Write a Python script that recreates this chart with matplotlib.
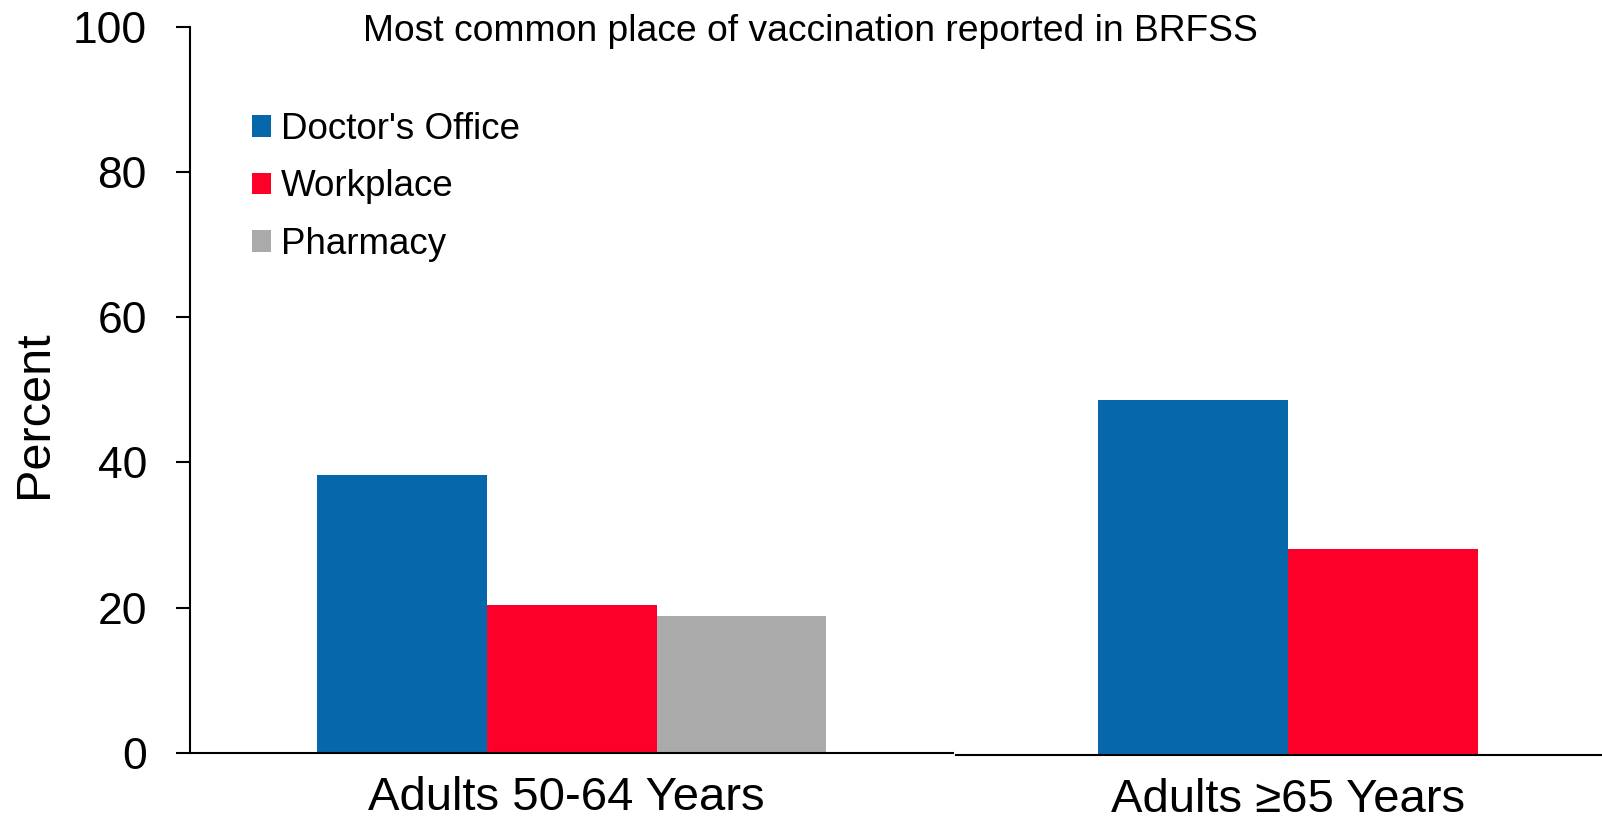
import matplotlib
matplotlib.use("Agg")
import matplotlib.pyplot as plt
from matplotlib.patches import Patch

plt.rcParams['font.family'] = ['Liberation Sans', 'DejaVu Sans']

# ---- data ----
groups = ["Adults 50-64 Years", "Adults \u226565 Years"]
series = ["Doctor's Office", "Workplace", "Pharmacy"]
doctor = [38.2, 48.9]
workplace = [20.3, 28.3]
pharmacy = [18.8, None]
colors = ["#0767AB", "#FC002A", "#AAAAAA"]
yticks = [0, 20, 40, 60, 80, 100]
title = "Most common place of vaccination reported in BRFSS"

W, H = 1602, 824
fig = plt.figure(figsize=(W / 100, H / 100), dpi=100)


def fx(px):
    return px / W


def fy(py):
    return 1 - py / H


top_px = 26.7
ax1 = fig.add_axes([fx(190), fy(752.7), fx(953) - fx(190), fy(top_px) - fy(752.7)])
ax2 = fig.add_axes([fx(956), fy(754.7), fx(1602) - fx(956), fy(top_px) - fy(752.7)])

values = [doctor, workplace, pharmacy]

# group 1: three bars
for i, (vals, c) in enumerate(zip(values, colors)):
    v = vals[0]
    if v is not None:
        ax1.bar(i - 1, v, width=1.0, color=c, linewidth=0)
# group 2: two bars
present = [(vals[1], c) for vals, c in zip(values, colors) if vals[1] is not None]
n = len(present)
for i, (v, c) in enumerate(present):
    ax2.bar(i - (n - 1) / 2, v, width=1.0, color=c, linewidth=0)

ax1.set_xlim(-2.250, 2.246)
ax2.set_xlim(-1.748, 1.656)
for ax in (ax1, ax2):
    ax.set_ylim(0, 100)
    ax.spines['top'].set_visible(False)
    ax.spines['right'].set_visible(False)
    ax.spines['bottom'].set_linewidth(1.5)
    ax.spines['left'].set_linewidth(1.5)
    ax.tick_params(axis='x', length=0, pad=17, labelsize=34)

ax2.spines['left'].set_visible(False)
ax2.set_yticks([])

ax1.set_yticks(yticks)
ax1.set_yticklabels([str(t) for t in yticks])
ax1.tick_params(axis='y', direction='out', length=10, width=1.5, pad=21, labelsize=32)

ax1.set_xticks([-0.035])
ax1.set_xticklabels([groups[0]])
ax2.set_xticks([0.0])
ax2.set_xticklabels([groups[1]])

fig.text(fx(34.5), fy(414), "Percent", rotation=90, ha='center', va='center', fontsize=35)

fig.text(fx(810), fy(41), title, ha='center', va='baseline', fontsize=26.8)

handles = [Patch(facecolor=c, edgecolor='none') for c in colors]
fig.legend(handles, series, loc='upper left', bbox_to_anchor=(fx(252), fy(112)),
           bbox_transform=fig.transFigure, frameon=False, fontsize=26.5,
           handlelength=0.52, handleheight=0.52, handletextpad=0.27,
           labelspacing=0.61, borderpad=0, borderaxespad=0)

fig.savefig("out.png", dpi=100)
